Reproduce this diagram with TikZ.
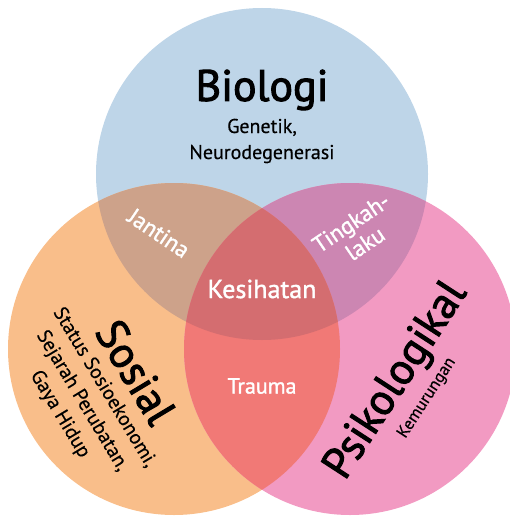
\documentclass[tikz,border=0pt]{standalone}
\usepackage{fontspec}
\setmainfont{PT Sans}
\newfontfamily\titlefont[FakeBold=2.2]{PT Sans}
\newfontfamily\whitefont[FakeBold=1.4]{PT Sans}
\newfontfamily\subfont[FakeBold=0.4]{PT Sans}
\definecolor{cBio}{RGB}{190,213,232}
\definecolor{cSos}{RGB}{249,190,138}
\definecolor{cPsi}{RGB}{242,154,194}
\definecolor{cBS}{RGB}{205,162,138}
\definecolor{cBP}{RGB}{204,134,178}
\definecolor{cSP}{RGB}{241,121,118}
\definecolor{cAll}{RGB}{212,109,112}
\tikzset{
  title/.style={font=\titlefont\fontsize{44}{44}\selectfont, text=black, inner sep=0pt},
  sub/.style={font=\subfont\fontsize{20}{26}\selectfont, text=black, align=center, inner sep=0pt},
  white/.style={font=\whitefont\fontsize{23}{25}\selectfont, text=white, align=center, inner sep=0pt},
}
\begin{document}
\begin{tikzpicture}[x=1pt,y=-1pt]
\useasboundingbox (0,0) rectangle (510,516);
\clip (0,0) rectangle (510,516);
\coordinate (B) at (262,174);
\coordinate (S) at (174,349);
\coordinate (P) at (350,349);
\def\R{166}
\fill[cBio] (B) circle (\R);
\fill[cSos] (S) circle (\R);
\fill[cPsi] (P) circle (\R);
\begin{scope}\clip (B) circle (\R); \fill[cBS] (S) circle (\R); \end{scope}
\begin{scope}\clip (B) circle (\R); \fill[cBP] (P) circle (\R); \end{scope}
\begin{scope}\clip (S) circle (\R); \fill[cSP] (P) circle (\R); \end{scope}
\begin{scope}\clip (B) circle (\R); \clip (S) circle (\R); \fill[cAll] (P) circle (\R); \end{scope}

\node[title] (bio) at (262,90) {Biologi};
\node[sub] (biosub) at (262,141) {Genetik,\\Neurodegenerasi};
\node[white, font=\whitefont\fontsize{26}{26}\selectfont] (kes) at (262,289) {Kesihatan};
\node[white, font=\whitefont\fontsize{22}{22}\selectfont] (tra) at (262,386) {Trauma};
\node[white, rotate=-34] (jan) at (159,233) {Jantina};
\node[white, rotate=34] (tin) at (358,233) {Tingkah-\\laku};
\node[title, rotate=-59] (sos) at (136,372) {Sosial};
\node[sub, rotate=-59] (sossub) at (82,401) {Status Sosioekonomi,\\Sejarah Perubatan,\\Gaya Hidup};
\node[title, rotate=57] (psi) at (397,381) {Psikologikal};
\node[sub, rotate=57, font=\subfont\fontsize{17}{20}\selectfont] (psisub) at (427,398) {Kemurungan};
\end{tikzpicture}
\end{document}
